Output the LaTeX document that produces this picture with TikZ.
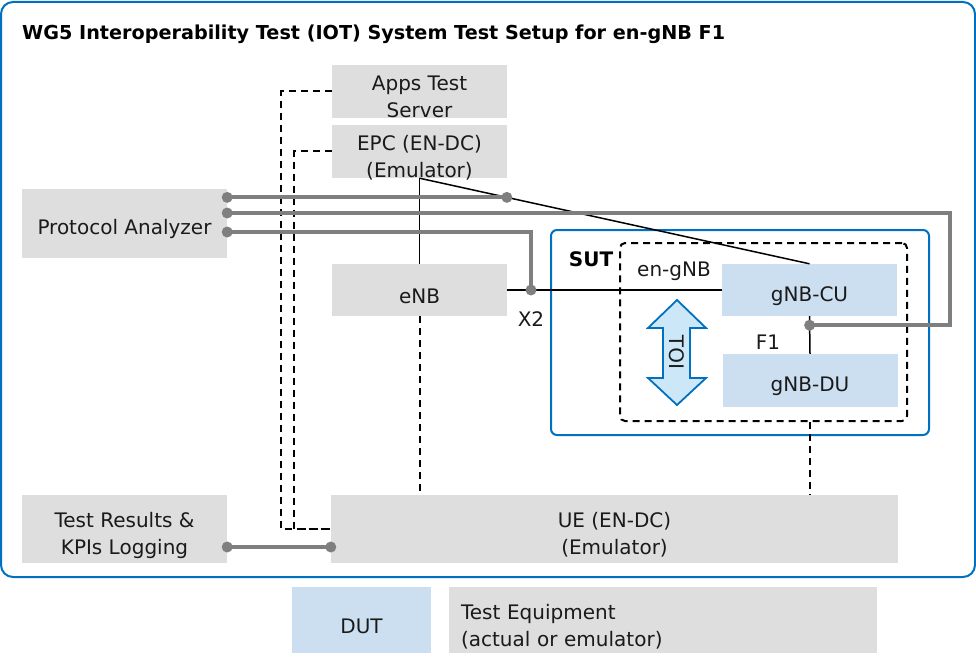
\documentclass[tikz,border=0pt]{standalone}
\usepackage{fontspec}
\setmainfont{DejaVu Sans}
\usetikzlibrary{positioning, calc, arrows.meta}

\definecolor{eqgray}{HTML}{DEDEDE}
\definecolor{dutblue}{HTML}{CCDFF1}
\definecolor{framblue}{HTML}{0070C0}
\definecolor{iotfill}{HTML}{CCE8F8}
\definecolor{tapgray}{HTML}{7F7F7F}
\definecolor{txt}{HTML}{1A1A1A}

\tikzset{
    lift/.style={execute at begin node={\rule{0pt}{#1}}},
    equip/.style={fill=eqgray, text=txt, align=center, inner sep=0pt, lift=27pt},
    dutbox/.style={fill=dutblue, text=txt, align=center, inner sep=0pt, lift=27pt},
    twoline/.style 2 args={lift=0pt, text height=#1, text depth=#2},
    sig/.style={line width=1.5pt, black},
    dashline/.style={line width=2pt, black, dash pattern=on 7pt off 5pt},
    tap/.style={line width=4pt, tapgray},
    lbl/.style={text=txt, inner sep=0pt}
}

\begin{document}
\begin{tikzpicture}[x=1pt, y=-1pt, font=\fontsize{20}{27}\selectfont]
        \useasboundingbox (0,0) rectangle (976,663);
        % Outer frame
        \draw[framblue, line width=2pt, rounded corners=12pt] (1,2) rectangle (975,577);
        \node[lbl, anchor=west, font=\fontsize{19.2}{27}\selectfont\bfseries, text=black] (title) at (22,34)
            {WG5 Interoperability Test (IOT) System Test Setup for en-gNB F1};
        % SUT frame
        \draw[framblue, line width=2pt, rounded corners=6pt] (551,230) rectangle (929,435);
        \node[lbl, font=\fontsize{20}{27}\selectfont\bfseries, text=black] (sut) at (591,259) {SUT};
        \node[draw, dashline, rounded corners=5pt, minimum width=287, minimum height=178] (engnb) at (763.5,332) {};
        \node[lbl] (engnblbl) at (674,271) {en-gNB};
        % Test equipment
        \node[equip, twoline={53pt}{0pt}, minimum width=175, minimum height=53] (apps) at (419.5,91.5) {Apps Test\\Server};
        \node[equip, twoline={53pt}{0pt}, minimum width=175, minimum height=53] (epc) at (419.5,151.5) {EPC (EN-DC)\\(Emulator)};
        \node[equip, minimum width=205, minimum height=69] (pa) at (124.5,223.5) {Protocol Analyzer};
        \node[equip, minimum width=175, minimum height=52] (enb) at (419.5,290) {eNB};
        \node[equip, twoline={59pt}{9pt}, minimum width=205, minimum height=68] (tr) at (124.5,529) {Test Results \&\\KPIs Logging};
        \node[equip, twoline={59pt}{9pt}, minimum width=567, minimum height=68] (ue) at (614.5,529) {UE (EN-DC)\\(Emulator)};
        % Devices under test
        \node[dutbox, minimum width=175, minimum height=52] (cu) at (809.5,290) {gNB-CU};
        \node[dutbox, minimum width=175, minimum height=53] (du) at (810,380.5) {gNB-DU};
        % IOT arrow
        \draw[framblue, fill=iotfill, line width=1.8pt, line join=miter]
            (677,300) -- (706,328) -- (690,328) -- (690,378) -- (706,378) -- (677,405)
            -- (648,378) -- (663,378) -- (663,328) -- (648,328) -- cycle;
        \node[lbl, rotate=90, yscale=-1] (iot) at (677,352.5) {IOT};
        % Legend
        \node[dutbox, lift=23pt, minimum width=139, minimum height=66] (legdut) at (361.5,620) {DUT};
        \node[equip, twoline={32pt}{34pt}, minimum width=428, minimum height=66, align=left, text width=404] (legeq) at (663,620)
            {Test Equipment\\(actual or emulator)};
        % Dashed links to UE
        \coordinate (busA) at (281,0);
        \coordinate (busB) at (294,0);
        \draw[dashline] (apps.west) -| (busA |- ue.west) -- (ue.west);
        \draw[dashline] (epc.west) -| (busB |- ue.west) -- (ue.west);
        \draw[dashline] (enb.south) -- (enb.south |- ue.north);
        \draw[dashline] (du.south |- engnb.south) -- (du.south |- ue.north);
        % Interfaces
        \draw[sig] (epc.south) -- (enb.north);
        \draw[sig] (epc.south) -- (cu.north);
        \draw[sig] (enb.east) -- (cu.west);
        \draw[sig] (cu.south) -- (du.north);
        \node[lbl] (x2) at (531,319) {X2};
        \node[lbl] (f1) at (768,342) {F1};
        % Protocol analyzer taps
        \coordinate (ctap) at ($(epc.south)!0.224!(cu.north)$);
        \coordinate (xtap) at (531,290);
        \coordinate (ftap) at ($(cu.south)!0.24!(du.north)$);
        \coordinate (loop) at (950,213);
        \coordinate (paA) at (pa.east |- ctap);
        \coordinate (paB) at ([yshift=10.5pt]pa.east);
        \coordinate (paC) at ([yshift=-8.5pt]pa.east);
        \coordinate (trout) at ([yshift=-18pt]tr.east);
        \coordinate (uein) at ([yshift=-18pt]ue.west);
        \draw[tap] (paA) -- (ctap);
        \draw[tap] (paB) -- (loop) |- (ftap);
        \draw[tap] (paC) -| (xtap);
        \draw[tap] (trout) -- (uein);
        \foreach \p in {ctap, xtap, ftap, paA, paB, paC, trout, uein}
            \fill[tapgray] (\p) circle (5.5pt);
    \end{tikzpicture}
\end{document}
